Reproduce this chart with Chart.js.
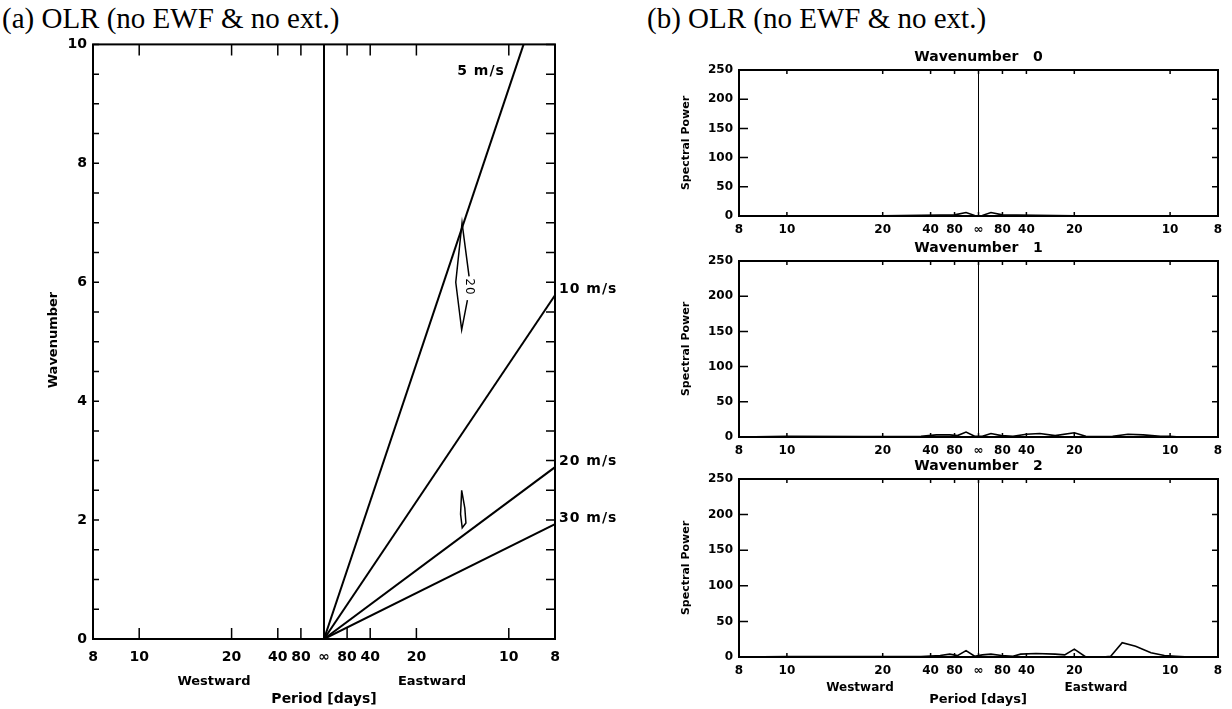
<!DOCTYPE html>
<html>
<head>
<meta charset="utf-8">
<script src="https://cdn.jsdelivr.net/npm/chart.js@4.4.1/dist/chart.umd.min.js"></script>
<style>
body { margin: 0; background: #fff; width: 1232px; height: 709px; position: relative; overflow: hidden; }
.ptitle { position: absolute; font-family: "Liberation Serif", serif; font-size: 29px; color: #000; white-space: nowrap; line-height: 1; }
canvas { position: absolute; }
</style>
</head>
<body>
<div class="ptitle" style="left:2px;top:4px">(a) OLR (no EWF &amp; no ext.)</div>
<div class="ptitle" style="left:647px;top:4px">(b) OLR (no EWF &amp; no ext.)</div>
<canvas id="wk" width="640" height="679" style="left:0;top:30px"></canvas>
<canvas id="k0" width="592" height="208" style="left:640px;top:41px"></canvas>
<canvas id="k1" width="592" height="238" style="left:640px;top:232px"></canvas>
<canvas id="k2" width="592" height="259" style="left:640px;top:450px"></canvas>
<script>
// x axis: frequency (1/period, cycles per day), westward negative
const periodTickFreq = [-1/8, -1/10, -1/20, -1/40, -1/80, 0, 1/80, 1/40, 1/20, 1/10, 1/8];
const periodTickLabels = ['8', '10', '20', '40', '80', '\u221E', '80', '40', '20', '10', '8'];

// (a) phase speed lines from the origin, end points
const speedLabels = ['5 m/s', '10 m/s', '20 m/s', '30 m/s'];
const speedEndFreq = [0.108, 0.125, 0.125, 0.125];
const speedEndK = [10, 5.78, 2.89, 1.93];

// (a) contours
const contour20Freq = [0.0785, 0.0747, 0.0713, 0.0745, 0.0776];
const contour20K = [6.1, 7.0, 6.0, 5.2, 5.7];
const contourSmallFreq = [0.0745, 0.0762, 0.0768, 0.0748, 0.0739, 0.0745];
const contourSmallK = [2.5, 2.2, 1.95, 1.87, 2.1, 2.5];

// (b) spectral power for wavenumbers 0, 1, 2
const freqK0 = [-0.125, -0.1, -0.075, -0.05, -0.03, -0.02, -0.0125, -0.0065, -0.002, 0, 0.002, 0.0065, 0.0125, 0.02, 0.03, 0.05, 0.075, 0.1, 0.125];
const powerK0 = [0, 0.5, 0, 0.5, 1, 1.5, 2, 6, 1, 0, 1, 6, 2, 1.5, 1, 0.5, 0.5, 0, 0];
const freqK1 = [-0.125, -0.1, -0.06, -0.03, -0.022, -0.015, -0.011, -0.0065, -0.002, 0.002, 0.0065, 0.012, 0.018, 0.025, 0.032, 0.04, 0.05, 0.056, 0.062, 0.07, 0.078, 0.086, 0.095, 0.1, 0.105, 0.125];
const powerK1 = [0, 1, 0.5, 1, 3, 3, 2, 7, 1, 1, 5, 2, 1, 4, 5, 2, 6, 1, 0.5, 1, 4, 3, 1, 1, 0, 0];
const freqK2 = [-0.125, -0.1, -0.05, -0.03, -0.02, -0.015, -0.011, -0.0065, -0.002, 0.002, 0.0065, 0.012, 0.018, 0.022, 0.03, 0.04, 0.045, 0.05, 0.056, 0.065, 0.069, 0.075, 0.082, 0.09, 0.097, 0.103, 0.11, 0.125];
const powerK2 = [0, 0.5, 0.5, 0.5, 2, 4, 2, 9, 1, 3, 4, 2, 1, 4, 5, 4, 3, 11, 0, 0, 1, 20, 15, 6, 2, 1, 0, 0];

function pts(xs, ys) {
    return xs.map((x, i) => ({ x: x, y: ys[i] }));
}

function line(data, width) {
    return { data: data, borderColor: '#000', borderWidth: width, pointRadius: 0, fill: false, tension: 0 };
}

// frame, inward ticks on all four sides and free text
const framePlugin = {
    id: 'frame',
    afterDatasetsDraw(chart, args, o) {
        const ctx = chart.ctx, a = chart.chartArea, xs = chart.scales.x, ys = chart.scales.y;
        ctx.save();
        ctx.strokeStyle = '#000';
        ctx.lineWidth = 1.5;
        ctx.beginPath();
        xs.ticks.forEach(t => {
            const px = xs.getPixelForValue(t.value);
            ctx.moveTo(px, a.bottom); ctx.lineTo(px, a.bottom - o.xTick);
            ctx.moveTo(px, a.top); ctx.lineTo(px, a.top + o.xTick);
        });
        let yVals = [];
        if (o.yMinor) {
            for (let v = ys.min; v <= ys.max + 1e-9; v += o.yMinor) yVals.push(v);
        } else {
            yVals = ys.ticks.map(t => t.value);
        }
        yVals.forEach(v => {
            const py = ys.getPixelForValue(v);
            ctx.moveTo(a.left, py); ctx.lineTo(a.left + o.yTickL, py);
            ctx.moveTo(a.right, py); ctx.lineTo(a.right - o.yTickR, py);
        });
        ctx.stroke();
        ctx.lineWidth = 2;
        ctx.strokeRect(a.left, a.top, a.right - a.left, a.bottom - a.top);
        ctx.fillStyle = '#000';
        (o.texts || []).forEach(t => {
            let px = t.px, py = t.py;
            if (t.dx !== undefined) px = xs.getPixelForValue(t.dx) + (t.ox || 0);
            if (t.dy !== undefined) py = ys.getPixelForValue(t.dy) + (t.oy || 0);
            if (t.midX) px = (a.left + a.right) / 2;
            if (t.midY) py = (a.top + a.bottom) / 2;
            if (t.aboveTop) py = a.top - t.aboveTop;
            if (t.belowBottom) py = a.bottom + t.belowBottom;
            ctx.save();
            ctx.translate(px, py);
            if (t.rot) ctx.rotate(t.rot);
            ctx.font = t.font;
            ctx.textAlign = t.align || 'center';
            ctx.textBaseline = 'middle';
            ctx.letterSpacing = t.spacing || '0px';
            ctx.fillText(t.text, 0, 0);
            ctx.restore();
        });
        ctx.restore();
    }
};

function options(cfg) {
    return {
        responsive: false,
        animation: false,
        events: [],
        layout: { padding: { top: cfg.padTop, right: cfg.padRight, left: 0, bottom: 0 } },
        plugins: {
            legend: { display: false },
            tooltip: { enabled: false },
            frame: cfg.frame
        },
        scales: {
            x: {
                type: 'linear',
                min: -0.125,
                max: 0.125,
                afterBuildTicks: s => { s.ticks = periodTickFreq.map(v => ({ value: v })); },
                afterFit: s => { s.height = cfg.xHeight; },
                grid: { display: false, drawTicks: false },
                border: { display: false },
                ticks: {
                    autoSkip: false, maxRotation: 0, padding: cfg.xPad, color: '#000',
                    font: { family: 'DejaVu Sans', weight: 'bold', size: cfg.tickSize },
                    callback: (v, i) => periodTickLabels[i]
                }
            },
            y: {
                min: cfg.yMin,
                max: cfg.yMax,
                afterFit: s => { s.width = cfg.yWidth; },
                grid: { display: false, drawTicks: false },
                border: { display: false },
                ticks: {
                    stepSize: cfg.yStep, padding: cfg.yPad, color: '#000',
                    font: { family: 'DejaVu Sans', weight: 'bold', size: cfg.tickSize }
                }
            }
        }
    };
}

const bold = s => 'bold ' + s + 'px "DejaVu Sans"';

// (a) wavenumber-frequency diagram
const wkData = [line(pts([0, 0], [0, 10]), 2)];
speedLabels.forEach((lab, i) => wkData.push(line(pts([0, speedEndFreq[i]], [0, speedEndK[i]]), 2)));
wkData.push(line(pts(contour20Freq, contour20K), 1.5));
wkData.push(line(pts(contourSmallFreq, contourSmallK), 1.5));

const wkTexts = [
    { text: 'Wavenumber', px: 54, py: 310, rot: -Math.PI / 2, font: bold(13) },
    { text: 'Westward', px: 214, py: 652, font: bold(13) },
    { text: 'Eastward', px: 432, py: 652, font: bold(13) },
    { text: 'Period [days]', px: 324, py: 669, font: bold(14) },
    { text: speedLabels[0], dx: 0.085, dy: 9.55, font: bold(14), spacing: '1px' },
    { text: '20', dx: 0.0787, dy: 5.92, rot: Math.PI / 2, font: '12px "DejaVu Sans"', spacing: '1px' }
];
for (let i = 1; i < speedLabels.length; i++) {
    wkTexts.push({ text: speedLabels[i], dx: 0.125, dy: speedEndK[i], ox: 4, oy: -6, align: 'left', font: bold(14), spacing: '1px' });
}

new Chart('wk', {
    type: 'line',
    data: { datasets: wkData },
    options: options({
        padTop: 14, padRight: 85, xHeight: 70, yWidth: 93, xPad: 10, yPad: 6, tickSize: 14,
        yMin: 0, yMax: 10, yStep: 2,
        frame: { xTick: 11, yTickL: 6, yTickR: 9, yMinor: 0.5, texts: wkTexts }
    }),
    plugins: [framePlugin]
});

// (b) spectra for each wavenumber
const spectra = [
    { id: 'k0', k: 0, f: freqK0, p: powerK0, xHeight: 33, bottomLabels: false },
    { id: 'k1', k: 1, f: freqK1, p: powerK1, xHeight: 33, bottomLabels: false },
    { id: 'k2', k: 2, f: freqK2, p: powerK2, xHeight: 52, bottomLabels: true }
];

spectra.forEach(sp => {
    const texts = [
        { text: 'Wavenumber   ' + sp.k, midX: true, aboveTop: 13, font: bold(14) },
        { text: 'Spectral Power', px: 46, midY: true, rot: -Math.PI / 2, font: bold(11) }
    ];
    if (sp.bottomLabels) {
        texts.push({ text: 'Westward', px: 220, belowBottom: 31, font: bold(12) });
        texts.push({ text: 'Eastward', px: 456, belowBottom: 31, font: bold(12) });
        texts.push({ text: 'Period [days]', px: 338, belowBottom: 43, font: bold(13) });
    }
    new Chart(sp.id, {
        type: 'line',
        data: {
            datasets: [
                line(pts([0, 0], [0, 250]), 1),
                line(pts(sp.f, sp.p), 1.6)
            ]
        },
        options: options({
            padTop: 29, padRight: 14, xHeight: sp.xHeight, yWidth: 99, xPad: 7, yPad: 6, tickSize: 12,
            yMin: 0, yMax: 250, yStep: 50,
            frame: { xTick: 4, yTickL: 9, yTickR: 6, texts: texts }
        }),
        plugins: [framePlugin]
    });
});
</script>
</body>
</html>
